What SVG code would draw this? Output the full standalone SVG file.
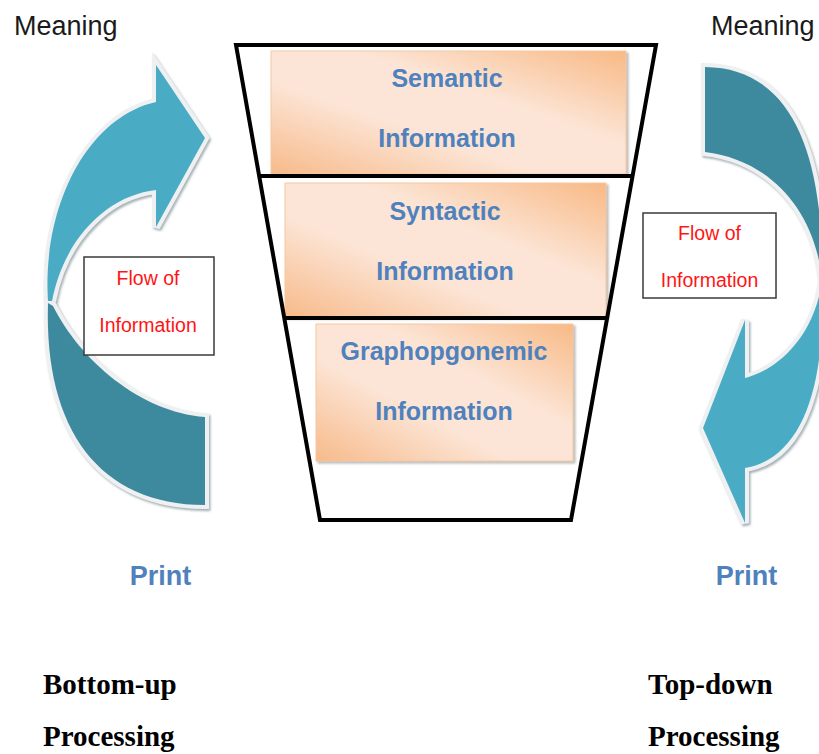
<svg xmlns="http://www.w3.org/2000/svg" width="819" height="754" viewBox="0 0 819 754">
<defs>
<linearGradient id="peach" x1="0" y1="1" x2="1" y2="0">
<stop offset="0" stop-color="#F7BA8A"/>
<stop offset="0.38" stop-color="#FCE5D6"/>
<stop offset="0.62" stop-color="#FCE5D6"/>
<stop offset="1" stop-color="#F8B985"/>
</linearGradient>
<filter id="boxShadow" x="-5%" y="-5%" width="112%" height="115%">
<feDropShadow dx="2" dy="2" stdDeviation="1.2" flood-color="#7f7f7f" flood-opacity="0.55"/>
</filter>
<filter id="arrowShadow" x="-10%" y="-10%" width="125%" height="125%">
<feDropShadow dx="1.5" dy="2" stdDeviation="1" flood-color="#7d8f96" flood-opacity="0.7"/>
</filter>
</defs>
<style>
.meaning{font-family:"Liberation Sans",Arial,sans-serif;font-size:27px;fill:#1a1a1a}
.layer{font-family:"Liberation Sans",Arial,sans-serif;font-size:25px;font-weight:bold;fill:#4F81BD;text-anchor:middle}
.print{font-family:"Liberation Sans",Arial,sans-serif;font-size:27px;font-weight:bold;fill:#4F81BD;text-anchor:middle}
.flow{font-family:"Liberation Sans",Arial,sans-serif;font-size:19.5px;fill:#FF1414;text-anchor:middle}
.proc{font-family:"Liberation Serif","Times New Roman",serif;font-size:29px;font-weight:bold;fill:#000}
.box{fill:url(#peach);stroke:#F6C7A2;stroke-width:1;filter:url(#boxShadow)}
.flowbox{fill:#fff;stroke:#3a3a3a;stroke-width:1.5}
.edge{fill:none;stroke:#000;stroke-width:4;stroke-linejoin:miter}
.outline{fill:#EEF0F1;stroke:#EEF0F1;stroke-width:8;stroke-linejoin:miter;filter:url(#arrowShadow)}
.light{fill:#4AABC5}
.dark{fill:#3D899E}
</style>

<g id="connectors">
<g id="arrow-left">
<path class="outline" d="M48,301 C42,210 85,118 156,102 L156,65 L205,138 L156,227 L156,190 C110,195 65,235 52,301 Z"/>
<path class="outline" d="M48,303 C44,430 100,505 205,505 L205,417 C140,412 80,360 53,306 Z"/>
<path class="dark" d="M48,303 C44,430 100,505 205,505 L205,417 C140,412 80,360 53,306 Z"/>
<path class="light" d="M48,301 C42,210 85,118 156,102 L156,65 L205,138 L156,227 L156,190 C110,195 65,235 52,301 Z"/>
</g>
<g id="arrow-right">
<path class="outline" d="M705,67 C790,68 824,150 822,280 C815,210 770,160 705,152 Z"/>
<path class="outline" d="M822,282 C826,380 805,458 745,468 L745,523 L703,428 L745,320 L745,378 C770,372 812,345 822,282 Z"/>
<path class="dark" d="M705,67 C790,68 824,150 822,280 C815,210 770,160 705,152 Z"/>
<path class="light" d="M822,282 C826,380 805,458 745,468 L745,523 L703,428 L745,320 L745,378 C770,372 812,345 822,282 Z"/>
</g>
</g>

<g id="meaning-left"><text class="meaning" x="14" y="35">Meaning</text></g>
<g id="meaning-right"><text class="meaning" x="711" y="35">Meaning</text></g>

<g id="semantic">
<rect class="box" x="271" y="51" width="355" height="123"/>
<text class="layer" x="447" y="87">Semantic</text>
<text class="layer" x="447" y="147">Information</text>
</g>
<g id="syntactic">
<rect class="box" x="285" y="183" width="321" height="134"/>
<text class="layer" x="445" y="220">Syntactic</text>
<text class="layer" x="445" y="280">Information</text>
</g>
<g id="graphophonemic">
<rect class="box" x="316" y="324" width="257" height="137"/>
<text class="layer" x="444" y="360">Graphopgonemic</text>
<text class="layer" x="444" y="420">Information</text>
</g>

<g id="funnel">
<polygon class="edge" points="236,45 656,45 571,520 320,520"/>
<line class="edge" x1="259" y1="176" x2="633" y2="176" stroke-width="3"/>
<line class="edge" x1="284" y1="318" x2="607" y2="318" stroke-width="3"/>
</g>

<g id="flow-left">
<rect class="flowbox" x="84" y="257" width="130" height="98"/>
<text class="flow" x="148" y="285">Flow of</text>
<text class="flow" x="148" y="332">Information</text>
</g>
<g id="flow-right">
<rect class="flowbox" x="643" y="213" width="133" height="85"/>
<text class="flow" x="709.5" y="240">Flow of</text>
<text class="flow" x="709.5" y="287">Information</text>
</g>

<g id="print-left"><text class="print" x="160.5" y="585">Print</text></g>
<g id="print-right"><text class="print" x="746.5" y="585">Print</text></g>

<g id="bottom-up">
<text class="proc" x="43" y="694">Bottom-up</text>
<text class="proc" x="43" y="746">Processing</text>
</g>
<g id="top-down">
<text class="proc" x="648" y="694">Top-down</text>
<text class="proc" x="648" y="746">Processing</text>
</g>
</svg>
